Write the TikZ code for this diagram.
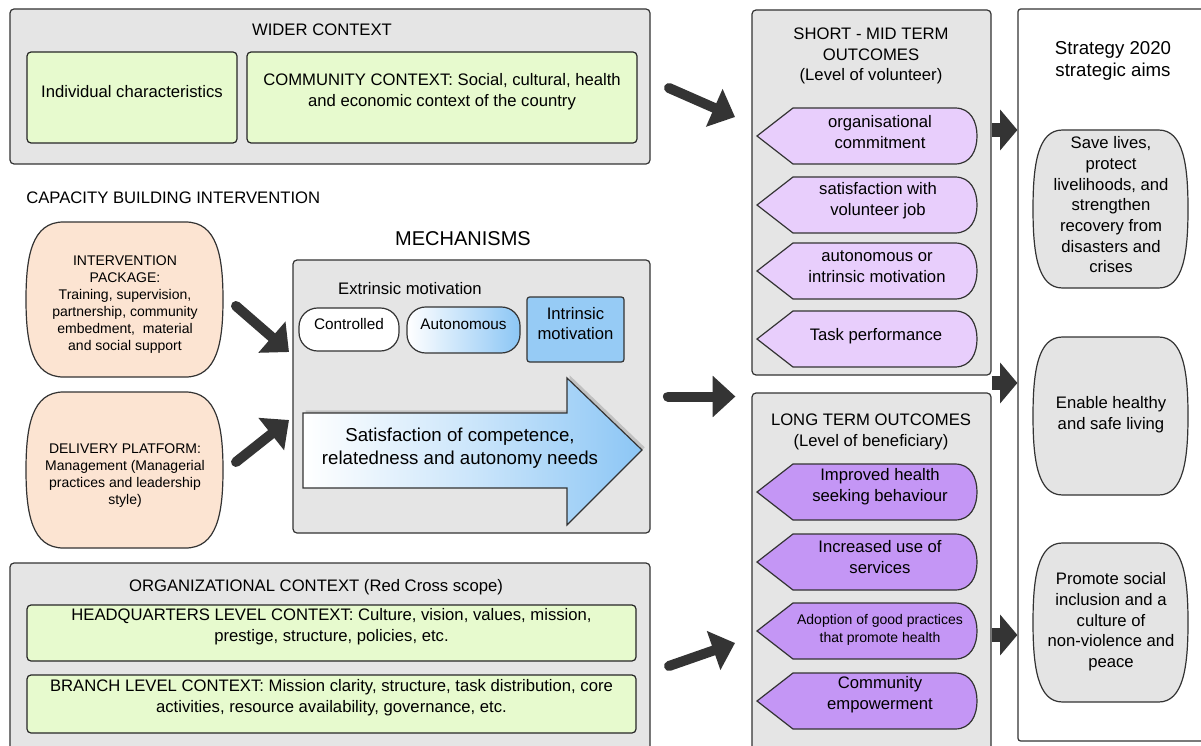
\documentclass[tikz,border=0pt]{standalone}
\usepackage{fontspec}
\setmainfont{Liberation Sans}
\usetikzlibrary{arrows.meta,fit,shadows}

\definecolor{boxgray}{RGB}{229,229,229}
\definecolor{ctxgreen}{RGB}{231,250,206}
\definecolor{peach}{RGB}{252,228,210}
\definecolor{lilac}{RGB}{232,206,252}
\definecolor{violet}{RGB}{196,150,245}
\definecolor{needblue}{RGB}{140,198,245}
\definecolor{intrblue}{RGB}{150,203,245}
\definecolor{aimgray}{RGB}{228,228,228}
\definecolor{arrowgray}{RGB}{52,52,52}

\tikzset{
  container/.style={draw=black!80, fill=boxgray, line width=0.9pt, rounded corners=3pt, inner sep=0pt},
  greenbox/.style={draw=black!85, fill=ctxgreen, line width=0.9pt, rounded corners=3pt, inner sep=0pt, align=center, font=\fontsize{12.5}{15.5}\selectfont},
  shapeline/.style={draw=black!80, line width=0.9pt},
  label/.style={inner sep=0.75pt, align=center, font=\fontsize{12.5}{15.5}\selectfont},
  small label/.style={inner sep=0.75pt, align=center, font=\fontsize{10.5}{12.75}\selectfont},
  fatarrow/.style={draw=arrowgray, line width=7.5pt, line cap=round, -{Triangle[width=30pt,length=17pt]}},
  stubarrow/.style={draw=arrowgray, line width=10pt, -{Triangle[width=30pt,length=13pt]}}
}

% barrel shaped outline: fill, x1, y1, x2, y2
\newcommand{\barrel}[5]{%
  \draw[shapeline, fill=#1] ({#2+0.19*(#4-#2)},#3) -- ({#4-0.19*(#4-#2)},#3)
    .. controls ({#4-0.03*(#4-#2)},#3) and (#4,{#3+0.22*(#5-#3)}) .. (#4,{(#3+#5)/2})
    .. controls (#4,{#5-0.22*(#5-#3)}) and ({#4-0.03*(#4-#2)},#5) .. ({#4-0.19*(#4-#2)},#5)
    -- ({#2+0.19*(#4-#2)},#5)
    .. controls ({#2+0.03*(#4-#2)},#5) and (#2,{#5-0.22*(#5-#3)}) .. (#2,{(#3+#5)/2})
    .. controls (#2,{#3+0.22*(#5-#3)}) and ({#2+0.03*(#4-#2)},#3) .. cycle;}

\begin{document}
\begin{tikzpicture}[x=0.75pt,y=0.75pt,yscale=-1,xscale=1]
\clip (0,0) rectangle (1201,745);
\fill[white] (0,0) rectangle (1201,745);

%Shape: Rectangle (containers)
\node[container, fit={(10,9) (650,164)}] (wider) {};
\node[container, fit={(293,260) (650,533)}] (mech) {};
\node[container, fit={(10,563) (650,752)}] (org) {};
\node[container, fit={(752,10) (991,375)}] (shortmid) {};
\node[container, fit={(752,393) (991,752)}] (longterm) {};
\node[container, fill=white, rounded corners=2pt, fit={(1018,9) (1215,741)}] (strat) {};

%Shape: Rectangle (context boxes)
\node[greenbox, fit={(27,52) (237,143)}] (indiv) {Individual characteristics};
\node[greenbox, fit={(247,52) (637,143)}] (comm) {COMMUNITY CONTEXT: Social, cultural, health\\and economic context of the country};
\node[greenbox, fit={(27,605) (636,661)}] (hq) {HEADQUARTERS LEVEL CONTEXT: Culture, vision, values, mission,\\prestige, structure, policies, etc.};
\node[greenbox, fit={(27,675) (636,733)}] (branch) {BRANCH LEVEL CONTEXT: Mission clarity, structure, task distribution, core\\activities, resource availability, governance, etc.};

%Shape: Barrels
\barrel{peach}{26}{222}{223}{377}
\barrel{peach}{26}{392}{223}{548}
\barrel{aimgray}{1033}{130}{1188}{288}
\barrel{aimgray}{1033}{337}{1188}{495}
\barrel{aimgray}{1033}{543}{1188}{702}

%Shape: Outcome tags
\foreach \t in {108,177,243,311} {
  \draw[shapeline, fill=lilac] (757,\t+28) -- (793,\t) -- (955,\t) .. controls (971,\t) and (977,\t+14) .. (977,\t+28) .. controls (977,\t+42) and (971,\t+56) .. (955,\t+56) -- (793,\t+56) -- cycle;
}
\foreach \t in {464,534,603,673} {
  \draw[shapeline, fill=violet] (757,\t+28) -- (793,\t) -- (955,\t) .. controls (971,\t) and (977,\t+14) .. (977,\t+28) .. controls (977,\t+42) and (971,\t+56) .. (955,\t+56) -- (793,\t+56) -- cycle;
}

%Shape: Motivation boxes
\node[shapeline, fill=white, rounded corners=14pt, inner sep=0pt, font=\fontsize{11.5}{14}\selectfont, fit={(299,308) (399,351)}] (ctrl) {Controlled};
\node[shapeline, left color=white, right color=needblue, rounded corners=14pt, inner sep=0pt, font=\fontsize{11.5}{14}\selectfont, fit={(407,307) (520,353)}] (auto) {Autonomous};
\node[shapeline, fill=intrblue, rounded corners=2pt, inner sep=0pt, align=center, font=\fontsize{12.5}{15.5}\selectfont, fit={(527,297) (624,362)}] (intr) {Intrinsic\\motivation};

%Shape: Right Arrow (needs)
\draw[shapeline, left color=white, right color=needblue, middle color=needblue!45, drop shadow={opacity=0.35, shadow xshift=2pt, shadow yshift=2pt}] (303,413) -- (567,413) -- (567,378) -- (642,450) -- (567,525) -- (567,488) -- (303,488) -- cycle;

% Text Node
\node[label] (wctitle) at (322,30) {WIDER CONTEXT};
% Text Node
\node[label, anchor=west] (cbi) at (25,198) {CAPACITY BUILDING INTERVENTION};
% Text Node
\node[label, font=\fontsize{15}{18}\selectfont] (mechtitle) at (463,239) {MECHANISMS};
% Text Node
\node[label] (extr) at (410,289) {Extrinsic motivation};
% Text Node
\node[label, font=\fontsize{14}{17}\selectfont] (needs) at (460,448) {Satisfaction of competence,\\relatedness and autonomy needs};
% Text Node
\node[label] (orgtitle) at (316,587) {ORGANIZATIONAL CONTEXT (Red Cross scope)};
% Text Node
\node[small label] (pkg) at (125,305) {INTERVENTION\\PACKAGE:\\Training, supervision,\\partnership, community\\embedment,\ \ material\\and social support};
% Text Node
\node[small label] (deliv) at (125,476) {DELIVERY PLATFORM:\\Management (Managerial\\practices and leadership\\style)};
% Text Node
\node[label] (smtitle) at (871,56) {SHORT - MID TERM\\OUTCOMES\\(Level of volunteer)};
% Text Node
\node[label] (lttitle) at (871,432) {LONG TERM OUTCOMES\\(Level of beneficiary)};
% Text Node
\node[label] (commit) at (880,132) {organisational\\commitment};
\node[label] (satis) at (878,201) {satisfaction with\\volunteer job};
\node[label] (automot) at (877,267) {autonomous or\\intrinsic motivation};
\node[label] (task) at (876,336) {Task performance};
\node[label] (health) at (880,487) {Improved health\\seeking behaviour};
\node[label] (services) at (880,557) {Increased use of\\services};
\node[label, font=\fontsize{10.5}{13}\selectfont] (adopt) at (880,630) {Adoption of good practices\\that promote health};
\node[label] (empower) at (880,695) {Community\\empowerment};
% Text Node
\node[label, font=\fontsize{14}{17}\selectfont] (strtitle) at (1113,61) {Strategy 2020\\strategic aims};
\node[label] (aim1) at (1111,205) {Save lives,\\protect\\livelihoods, and\\strengthen\\recovery from\\disasters and\\crises};
\node[label] (aim2) at (1111,415) {Enable healthy\\and safe living};
\node[label] (aim3) at (1111,622) {Promote social\\inclusion and a\\culture of\\non-violence and\\peace};

% Arrows
\coordinate (wcout) at (669,88);
\coordinate (smin) at (735,117);
\coordinate (pkgout) at (236,306);
\coordinate (mechin1) at (289,352);
\coordinate (delivout) at (236,462);
\coordinate (mechin2) at (289,420);
\coordinate (orgout) at (669,666);
\coordinate (ltin) at (735,643);
\draw[fatarrow] (wcout) -- (smin);
\draw[fatarrow] (pkgout) -- (mechin1);
\draw[fatarrow] (delivout) -- (mechin2);
\draw[fatarrow] (orgout) -- (ltin);
\draw[fatarrow, shorten <=13pt, shorten >=12pt] (mech.east) -- (mech.east -| longterm.west);
\draw[stubarrow] (shortmid.east |- 0,130) -- (strat.west |- 0,130);
\draw[stubarrow] (shortmid.east |- 0,383) -- (strat.west |- 0,383);
\draw[stubarrow] (longterm.east |- 0,635) -- (strat.west |- 0,635);

\end{tikzpicture}
\end{document}
